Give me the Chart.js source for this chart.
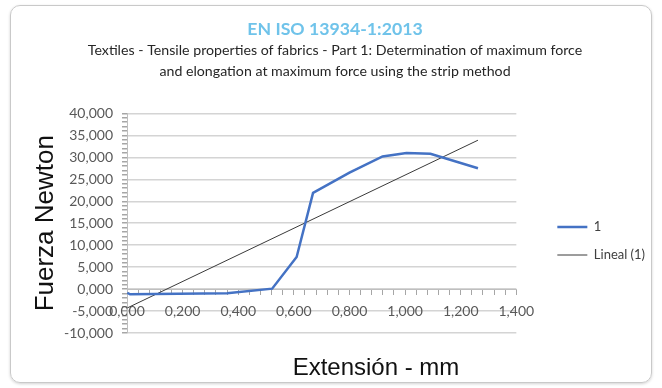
<!DOCTYPE html>
<html>
<head>
<meta charset="utf-8">
<script src="https://cdn.jsdelivr.net/npm/chart.js@4.4.1/dist/chart.umd.min.js"></script>
<style>
  body { margin: 0; background: #fff; }
  .wrap { position: relative; width: 662px; height: 388px; }
  .frame { position: absolute; left: 10px; top: 5px; width: 640px; height: 376px; border: 1px solid #c9c9c9; border-radius: 10px; box-shadow: 0 1px 3px rgba(0,0,0,0.18); pointer-events: none; }
</style>
</head>
<body>
<div class="wrap">
  <canvas id="chart" width="662" height="388"></canvas>
  <div class="frame"></div>
</div>
<script>
// measured curve, extension (mm) vs force
const extension = [0.001, 0.011, 0.36, 0.522, 0.61, 0.669, 0.8, 0.919, 1.005, 1.091, 1.262]
const force = [-0.85, -1.2, -0.95, 0.1, 7.3, 21.9, 26.5, 30.2, 31.0, 30.8, 27.5]

// linear trend line (ends)
const trendX = [0.001, 1.262]
const trendY = [-4.3, 33.9]

// axes
const xRange = [0, 1.4]
const xMajor = 0.2
const xMinor = 0.04
const yRange = [-10, 40]
const yMajor = 5
const yMinor = 1

const titleText = 'EN ISO 13934-1:2013'
const subtitleLines = [
  'Textiles - Tensile properties of fabrics - Part 1: Determination of maximum force',
  'and elongation at maximum force using the strip method'
]

const isMajor = (v, step) => Math.abs(v / step - Math.round(v / step)) < 1e-6
const fmt = v => v.toFixed(3).replace('.', ',')

const labelFont = { family: 'Lato', size: 14 }
const tickGray = '#a6a6a6'

const xTitlePlugin = {
  id: 'xTitle',
  afterDraw(chart) {
    const ctx = chart.ctx
    ctx.save()
    ctx.font = '24px "Liberation Sans"'
    ctx.fillStyle = '#111'
    ctx.textAlign = 'center'
    ctx.textBaseline = 'middle'
    ctx.fillText('Extensión - mm', 376, 368)
    ctx.restore()
  }
}

new Chart(document.getElementById('chart'), {
  type: 'line',
  data: {
    datasets: [{
      label: '1',
      data: extension.map((x, i) => ({ x: x, y: force[i] })),
      borderColor: '#4472c4',
      backgroundColor: '#4472c4',
      borderWidth: 2.5,
      pointRadius: 0,
      tension: 0
    }, {
      label: 'Lineal (1)',
      data: trendX.map((x, i) => ({ x: x, y: trendY[i] })),
      borderColor: '#3a3a3a',
      backgroundColor: '#3a3a3a',
      borderWidth: 1,
      pointRadius: 0,
      tension: 0
    }]
  },
  options: {
    responsive: false,
    animation: false,
    layout: { padding: { left: 24, right: 16, top: 0, bottom: 55 } },
    plugins: {
      title: {
        display: true,
        text: titleText,
        color: '#6fc3ea',
        font: { family: 'Lato', size: 17.7, weight: 'bold' },
        padding: { top: 19, bottom: 0 }
      },
      subtitle: {
        display: true,
        text: subtitleLines,
        color: '#262626',
        font: { family: 'Lato', size: 14.2, lineHeight: 1.45 },
        padding: { top: 0, bottom: 32 }
      },
      legend: {
        position: 'right',
        fullSize: false,
        title: { display: true, text: ' ', padding: 10, font: { size: 13 } },
        labels: {
          usePointStyle: true,
          pointStyle: 'line',
          pointStyleWidth: 30,
          color: '#404040',
          font: { family: 'Lato', size: 13 },
          padding: 15
        }
      },
      tooltip: { enabled: false }
    },
    scales: {
      x: {
        type: 'linear',
        position: { y: 0 },
        min: xRange[0],
        max: xRange[1],
        ticks: {
          stepSize: xMinor,
          maxTicksLimit: 100,
          autoSkip: false,
          maxRotation: 0,
          padding: 9,
          color: '#595959',
          font: labelFont,
          callback: v => isMajor(v, xMajor) ? fmt(v) : ''
        },
        grid: { drawOnChartArea: false, tickColor: tickGray, tickLength: 5 },
        border: { color: '#bfbfbf' }
      },
      y: {
        min: yRange[0],
        max: yRange[1],
        afterFit: s => { s.width = 103 },
        ticks: {
          stepSize: yMinor,
          maxTicksLimit: 100,
          autoSkip: false,
          padding: 9,
          color: '#595959',
          font: labelFont,
          callback: v => isMajor(v, yMajor) ? fmt(v) : ''
        },
        grid: {
          color: c => isMajor(c.tick.value, yMajor) ? '#d4d4d4' : 'rgba(0,0,0,0)',
          lineWidth: 1.5,
          tickColor: tickGray,
          tickLength: 5
        },
        border: { color: '#bfbfbf' },
        title: {
          display: true,
          text: 'Fuerza Newton',
          color: '#111',
          font: { family: 'Liberation Sans', size: 26 },
          padding: { top: 6, bottom: 0 }
        }
      },
      // empty axis: keeps the gap between the plot and the legend
      gap: {
        type: 'linear',
        position: 'right',
        display: true,
        afterFit: s => { s.width = 26 },
        ticks: { display: false },
        grid: { display: false },
        border: { display: false }
      }
    }
  },
  plugins: [xTitlePlugin]
})
</script>
</body>
</html>
